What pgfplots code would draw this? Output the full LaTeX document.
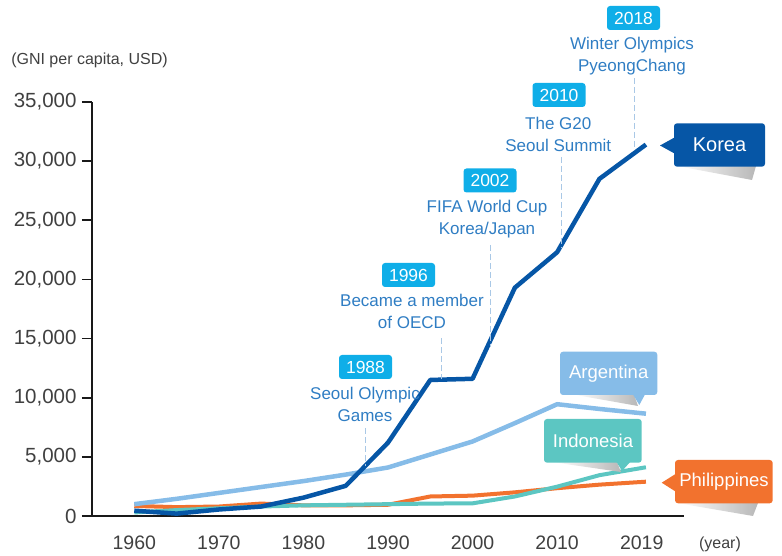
\documentclass[border=0pt]{standalone}
\usepackage{fontspec}
\setmainfont{Liberation Sans}
\usepackage{pgfplots}
\pgfplotsset{compat=1.18}
\definecolor{korea}{HTML}{0656A6}
\definecolor{argen}{HTML}{86BCE8}
\definecolor{indo}{HTML}{5CC6C2}
\definecolor{phil}{HTML}{F2722E}
\definecolor{evbox}{HTML}{0FAEE8}
\definecolor{evtext}{HTML}{2F7DC3}
\definecolor{dashc}{HTML}{A9C8E6}
\definecolor{ticktext}{HTML}{404040}
\begin{document}
\begin{tikzpicture}
\path[use as bounding box] (0,0) rectangle (782pt,556pt);
\begin{axis}[
  at={(92pt,40pt)}, anchor=south west,
  scale only axis, width=592pt, height=414pt,
  xmin=-0.5, xmax=6.5, ymin=0, ymax=35000,
  clip=false,
  axis x line*=bottom, axis y line*=left,
  axis line style={line width=1.8pt, color=black!90},
  every tick/.style={line width=1.8pt, color=black!90},
  tick align=outside,
  major tick length=10pt,
  xtick={0,1,2,3,4,5,6},
  xticklabels={1960,1970,1980,1990,2000,2010,2019},
  xtick style={draw=none},
  extra x ticks={-0.5,0.5,1.5,2.5,3.5,4.5,5.5,6.5},
  extra x tick labels={},
  extra x tick style={major tick length=14pt, tick style={draw=black!90, line width=1.8pt}},
  xticklabel style={font=\fontsize{19.5}{23}\selectfont, text=ticktext, anchor=base, yshift=-24pt},
  ytick={0,5000,...,35000},
  scaled y ticks=false,
  yticklabel style={font=\fontsize{20.5}{24}\selectfont, text=ticktext, anchor=east, xshift=-2pt,
    /pgf/number format/.cd, 1000 sep={,}, assume math mode=true},
]
\addplot[phil, line width=4pt, line join=round] coordinates {
 (0,850) (0.5,750) (1,800) (1.5,1050) (2,900) (2.5,900) (3,950) (3.5,1650) (4,1720) (4.5,2000) (5,2350) (5.5,2650) (6.05,2900)};
\addplot[indo, line width=4pt, line join=round] coordinates {
 (0,300) (0.5,500) (1,650) (1.5,800) (2,900) (2.5,950) (3,1000) (3.5,1050) (4,1070) (4.5,1650) (5,2480) (5.5,3450) (6.05,4120)};
\addplot[argen, line width=4.5pt, line join=round] coordinates {
 (0,1000) (0.5,1450) (1,1950) (1.5,2450) (2,2950) (2.5,3500) (3,4100) (3.5,5200) (4,6300) (4.5,7850) (5,9450) (5.5,9050) (6.05,8650)};
\addplot[korea, line width=4.5pt, line join=round] coordinates {
 (0,450) (0.5,200) (1,550) (1.5,800) (2,1550) (2.5,2550) (3,6200) (3.5,11500) (4,11600) (4.5,19300) (5,22300) (5.5,28500) (6.05,31400)};
\end{axis}
\begin{scope}[x=1pt,y=-1pt,yshift=556pt,
  evyear/.style={fill=evbox, rounded corners=3pt, text=white, font=\fontsize{17.5}{20}\selectfont, minimum width=53pt, minimum height=24pt, inner sep=0pt},
  evtxt/.style={text=evtext, font=\fontsize{17}{22}\selectfont, align=center, inner sep=0pt},
  dsh/.style={dashc, line width=0.9pt, dash pattern=on 6pt off 3pt},
  lab/.style={text=white, font=\fontsize{18.5}{22}\selectfont, inner sep=0pt}]
% axis titles
\node[text=ticktext, font=\fontsize{16}{19}\selectfont, anchor=base, inner sep=0pt] at (89.5,65) {(GNI per capita, USD)};
\node[text=ticktext, font=\fontsize{16}{19}\selectfont, anchor=base, inner sep=0pt] at (720,548.6) {(year)};
% events
\node[evyear] at (633.5,18) {2018};
\node[evtxt] at (632,56) {Winter Olympics\\PyeongChang};
\draw[dsh] (634.3,78) -- (634.3,150);
\node[evyear] at (559,95) {2010};
\node[evtxt] at (558.3,134) {The G20\\Seoul Summit};
\draw[dsh] (561,157) -- (561,248);
\node[evyear] at (490,180.5) {2002};
\node[evtxt] at (487,219) {FIFA World Cup\\Korea/Japan};
\draw[dsh] (490.7,245) -- (490.7,347);
\node[evyear] at (408.5,275) {1996};
\node[evtxt] at (412,311.7) {Became a member\\of OECD};
\draw[dsh] (441.7,338) -- (441.7,379);
\node[evyear] at (365.5,367) {1988};
\node[evtxt] at (365,404.7) {Seoul Olympic\\Games};
\draw[dsh] (365.3,428) -- (365.3,466);
% Korea callout
\shade[left color=white, right color=black!28] (677,166) -- (756,166) -- (752,180) -- cycle;
\fill[korea, rounded corners=3pt] (674,123.3) rectangle (765,166.7);
\fill[korea] (660,145.5) -- (674.5,137.5) -- (674.5,153.5) -- cycle;
\node[lab, font=\fontsize{20}{24}\selectfont] at (719.5,145) {Korea};
% Argentina callout
\shade[left color=white, right color=black!28] (573,394.5) -- (634,394.5) -- (638,406) -- cycle;
\fill[argen, rounded corners=3pt] (560,351.7) rectangle (657.3,395);
\fill[argen] (633,394.5) -- (645,394.5) -- (639.3,405) -- cycle;
\node[lab] at (608.7,373.3) {Argentina};
% Indonesia callout
\shade[left color=white, right color=black!28] (553,462.2) -- (617,462.2) -- (621,472) -- cycle;
\fill[indo, rounded corners=3pt] (544,419) rectangle (641.7,462.7);
\fill[indo] (616.7,462.2) -- (630,462.2) -- (622,471) -- cycle;
\node[lab] at (593,441) {Indonesia};
% Philippines callout
\shade[left color=white, right color=black!28] (677,503) -- (758,503) -- (753,516) -- cycle;
\fill[phil, rounded corners=3pt] (675,460) rectangle (772.7,503.3);
\fill[phil] (661.7,482.7) -- (675.5,474) -- (675.5,491.5) -- cycle;
\node[lab] at (724,482) {Philippines};
\end{scope}
\end{tikzpicture}
\end{document}
